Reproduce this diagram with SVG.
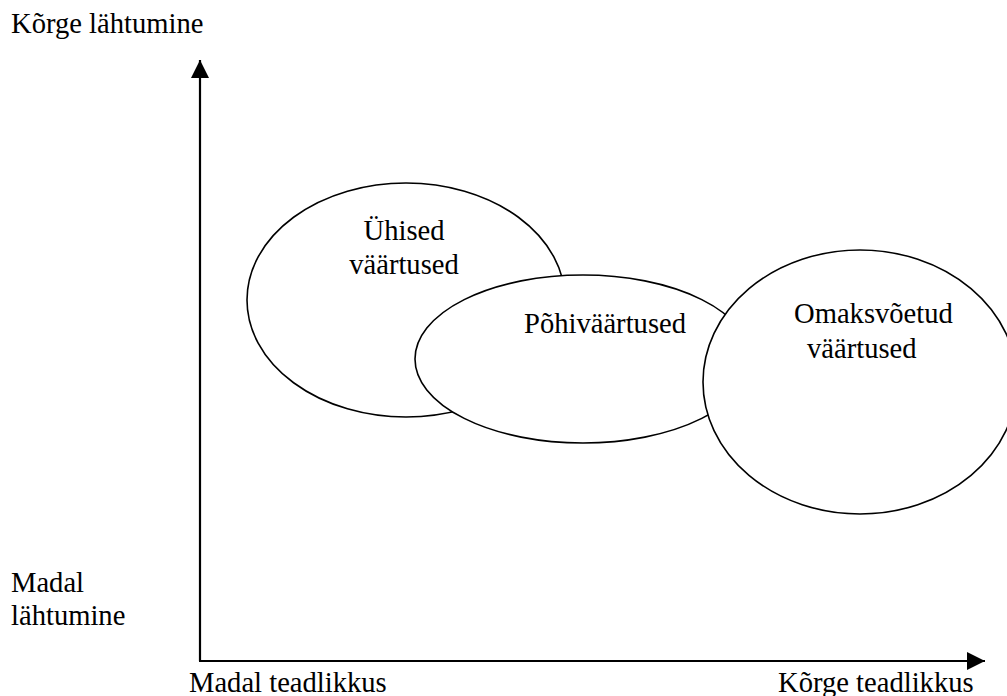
<svg xmlns="http://www.w3.org/2000/svg" width="1007" height="696" viewBox="0 0 1007 696">
<style>
.t{font-family:"Liberation Serif","Times New Roman",serif;font-size:28.6px;fill:#000}
.e{fill:#fff;stroke:#000;stroke-width:1.6}
.ax{stroke:#000;stroke-width:2.2;fill:none}
</style>
<defs>
<marker id="ah" markerUnits="userSpaceOnUse" markerWidth="18" markerHeight="18" viewBox="0 0 16 16" refX="16" refY="8" orient="auto">
<path d="M0,0 L16,8 L0,16 Z" fill="#000"/>
</marker>
</defs>
<rect width="1007" height="696" fill="#fff"/>
<g id="connectors">
<path class="ax" d="M200,661 L200,60" marker-end="url(#ah)"/>
<path class="ax" d="M199,661 L985,661" marker-end="url(#ah)"/>
</g>
<g id="axis-labels">
<text class="t" x="11" y="33">Kõrge lähtumine</text>
<text class="t" x="11" y="592">Madal</text>
<text class="t" x="11" y="625">lähtumine</text>
<text class="t" x="189" y="692">Madal teadlikkus</text>
<text class="t" x="778" y="692">Kõrge teadlikkus</text>
</g>
<g id="node-uhised">
<ellipse class="e" cx="406" cy="300" rx="159" ry="117"/>
<text class="t" x="404" y="240" text-anchor="middle">Ühised</text>
<text class="t" x="404" y="274" text-anchor="middle">väärtused</text>
</g>
<g id="node-pohivaartused">
<ellipse class="e" cx="583" cy="359" rx="168" ry="84"/>
<text class="t" x="605" y="333" text-anchor="middle">Põhiväärtused</text>
</g>
<g id="node-omaksvoetud">
<ellipse class="e" cx="860" cy="382" rx="157" ry="132"/>
<text class="t" x="794" y="323">Omaksvõetud</text>
<text class="t" x="807" y="358">väärtused</text>
</g>
</svg>
